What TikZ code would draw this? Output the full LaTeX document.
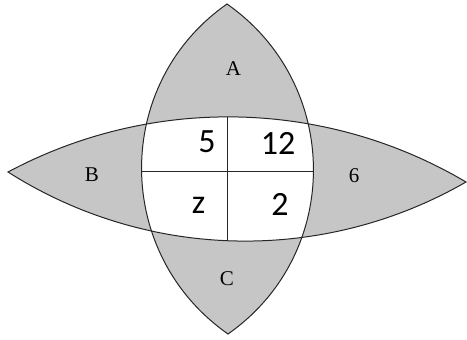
\documentclass[tikz,border=0pt]{standalone}
\usepackage{fontspec}
\setmainfont{Liberation Serif}
\newfontfamily\numfont{Carlito}
\begin{document}
\begin{tikzpicture}[x=1pt,y=-1pt,
  lensfill/.style={fill=gray!45},
  outline/.style={draw=black!85,line width=1pt},
  divider/.style={draw=black!85,line width=0.8pt},
  setlabel/.style={font=\fontsize{21}{21}\selectfont,inner sep=0pt},
  numlabel/.style={font=\numfont\fontsize{34}{34}\selectfont,inner sep=0pt}]
\useasboundingbox (0,0) rectangle (467,340);
\def\vlens{(227,4) .. controls (112.4,84.2) and (113.4,253.8) .. (228,334) .. controls (342.6,253.8) and (341.6,84.2) .. (227,4) -- cycle}
\def\hlens{(8,172) .. controls (151.9,95.1) and (325.5,98.9) .. (466,182) .. controls (323.4,264.2) and (146.9,260.4) .. (8,172) -- cycle}
% fills
\fill[lensfill] \vlens;
\fill[lensfill] \hlens;
\begin{scope}
  \clip \vlens;
  \fill[white] \hlens;
  % dividers inside the intersection
  \coordinate (vt) at (227,100);
  \coordinate (vb) at (227,260);
  \coordinate (hl) at (120,171.5);
  \coordinate (hr) at (340,171.5);
  \clip \hlens;
  \draw[divider] (vt) -- (vb);
  \draw[divider] (hl) -- (hr);
\end{scope}
% outlines
\draw[outline,line join=miter] \vlens;
\draw[outline,line join=miter] \hlens;
% labels
\node[setlabel] (A) at (233.5,69) {A};
\node[setlabel] (B) at (92,175) {B};
\node[setlabel] (six) at (354,176) {6};
\node[setlabel] (C) at (227,279) {C};
\node[numlabel] (n5) at (207,141.5) {5};
\node[numlabel] (n12) at (278,143.5) {12};
\node[numlabel] (nz) at (198.5,205) {z};
\node[numlabel] (n2) at (280,204) {2};
\end{tikzpicture}
\end{document}
